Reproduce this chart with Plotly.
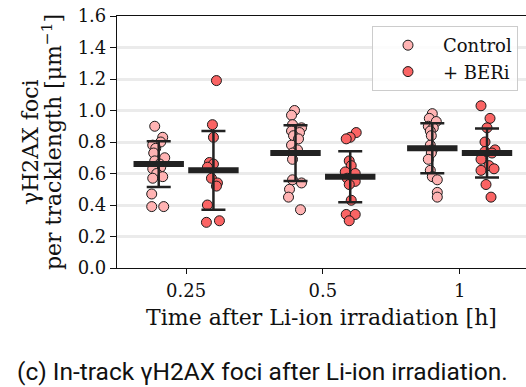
import plotly.graph_objects as go

# ---------------- data ----------------
times = ["0.25", "0.5", "1"]

control_mean = [0.66, 0.73, 0.76]
control_sd = [0.145, 0.177, 0.159]
beri_mean = [0.62, 0.58, 0.73]
beri_sd = [0.25, 0.162, 0.155]

control_pts = [
    [0.90, 0.83, 0.80, 0.78, 0.76, 0.73, 0.70, 0.68, 0.66, 0.64, 0.63, 0.60, 0.58, 0.57, 0.47, 0.39, 0.39],
    [1.00, 0.97, 0.91, 0.89, 0.87, 0.86, 0.84, 0.82, 0.78, 0.75, 0.73, 0.69, 0.56, 0.54, 0.50, 0.45, 0.37],
    [0.98, 0.95, 0.93, 0.90, 0.89, 0.87, 0.84, 0.78, 0.75, 0.73, 0.69, 0.62, 0.58, 0.56, 0.48, 0.45],
]
beri_pts = [
    [1.19, 0.91, 0.83, 0.67, 0.66, 0.64, 0.57, 0.54, 0.52, 0.40, 0.30, 0.29],
    [0.86, 0.83, 0.82, 0.68, 0.65, 0.61, 0.60, 0.57, 0.55, 0.53, 0.43, 0.34, 0.34, 0.30],
    [1.03, 0.95, 0.89, 0.80, 0.75, 0.74, 0.73, 0.69, 0.65, 0.63, 0.62, 0.53, 0.45],
]
# horizontal strip jitter (in pixels of the original figure)
control_jit = [
    [-4, 4, 2, -6, -3, -5, 6, -4, 1, 2, -6, -2, 4, -6, -7, -7, 5],
    [-1, -4, -3, 6, -4, 4, -2, 3, -4, 2, -3, -3, -3, 6, -6, -7, 5],
    [0, -3, 4, -4, 1, -2, -1, -2, 0, -1, -4, -2, 0, 5, 5, 5],
]
beri_jit = [
    [3, -1, 0, -4, 0, -6, -2, 4, 3, -6, 6, -7],
    [6, 0, -4, -1, 1, -5, 5, -3, 5, -1, 1, -4, 5, -1],
    [-6, 3, 0, -2, 8, -2, 5, -6, 2, 7, -6, -1, 4],
]

y_title_lines = ["γH2AX foci", "per tracklength [μm<sup>−1</sup>]"]
x_title = "Time after Li-ion irradiation [h]"
caption = "(c) In-track γH2AX foci after Li-ion irradiation."

# ---------------- styling ----------------
SERIF = "DejaVu Serif"
C_CTRL = "#ffb3b3"
C_BERI = "#fa6464"
C_BAR = "#222222"
OFF = 0.2
PX = 1 / 136.7
L, T, PW, PH = 117, 16, 409, 252   # plot area in pixels

def px_x(p):
    return (p - L) / PW

def px_y(p):
    return (T + PH - p) / PH

fig = go.Figure()

def add_group(pts, jit, off, color, name):
    xs, ys = [], []
    for i, (vals, jj) in enumerate(zip(pts, jit)):
        for v, j in zip(vals, jj):
            xs.append(i + off + j * PX)
            ys.append(v)
    fig.add_trace(go.Scatter(
        x=xs, y=ys, mode="markers", name=name,
        marker=dict(size=10, color=color, line=dict(color="#1a1a1a", width=1)),
    ))

add_group(control_pts, control_jit, -OFF, C_CTRL, "Control")
add_group(beri_pts, beri_jit, OFF, C_BERI, "+ BERi")

for means, sds, off in [(control_mean, control_sd, -OFF), (beri_mean, beri_sd, OFF)]:
    fig.add_trace(go.Scatter(
        x=[i + off for i in range(len(times))], y=means, mode="markers",
        showlegend=False,
        marker=dict(symbol="line-ew", size=36, line=dict(color=C_BAR, width=6)),
        error_y=dict(type="data", array=sds, visible=True, width=12,
                     thickness=2.5, color=C_BAR),
    ))

fig.update_layout(
    width=526, height=387,
    margin=dict(l=L, r=526 - L - PW, t=T, b=387 - T - PH),
    plot_bgcolor="white", paper_bgcolor="white",
    font=dict(family=SERIF, size=18, color="#111111"),
    showlegend=True,
    legend=dict(
        x=px_x(518), y=px_y(26), xanchor="right", yanchor="top",
        bgcolor="rgba(255,255,255,0.85)", bordercolor="#cccccc", borderwidth=1,
        font=dict(family=SERIF, size=18, color="#111111"),
        itemwidth=60,
    ),
    xaxis=dict(
        range=[-0.505, 2.485],
        tickvals=list(range(len(times))), ticktext=times,
        showline=True, linecolor="#111111", linewidth=1.2, mirror=True,
        ticks="outside", ticklen=5, tickcolor="#111111",
        tickfont=dict(family=SERIF, size=18), ticklabelstandoff=1,
        showgrid=False, zeroline=False,
        title=dict(text=x_title, standoff=9,
                   font=dict(family=SERIF, size=22)),
    ),
    yaxis=dict(
        range=[0, 1.6], tickvals=[0, 0.2, 0.4, 0.6, 0.8, 1.0, 1.2, 1.4, 1.6],
        tickformat=".1f",
        showline=True, linecolor="#111111", linewidth=1.2, mirror=False,
        ticks="outside", ticklen=6, tickcolor="#111111",
        tickfont=dict(family=SERIF, size=18),
        showgrid=True, gridcolor="#ebebeb", gridwidth=2.5, zeroline=False,
    ),
)

for text, xpx in zip(y_title_lines, [30, 52]):
    fig.add_annotation(
        text=text, textangle=-90, xref="paper", yref="paper",
        x=px_x(xpx), y=px_y(142), xanchor="center", yanchor="middle",
        showarrow=False, font=dict(family=SERIF, size=22, color="#111111"),
    )

fig.add_annotation(
    text=caption,
    xref="paper", yref="paper", x=px_x(262), y=px_y(372),
    xanchor="center", yanchor="middle", showarrow=False,
    font=dict(family="Roboto", size=24.5, color="#111111"),
)

fig.write_html("out.html")
